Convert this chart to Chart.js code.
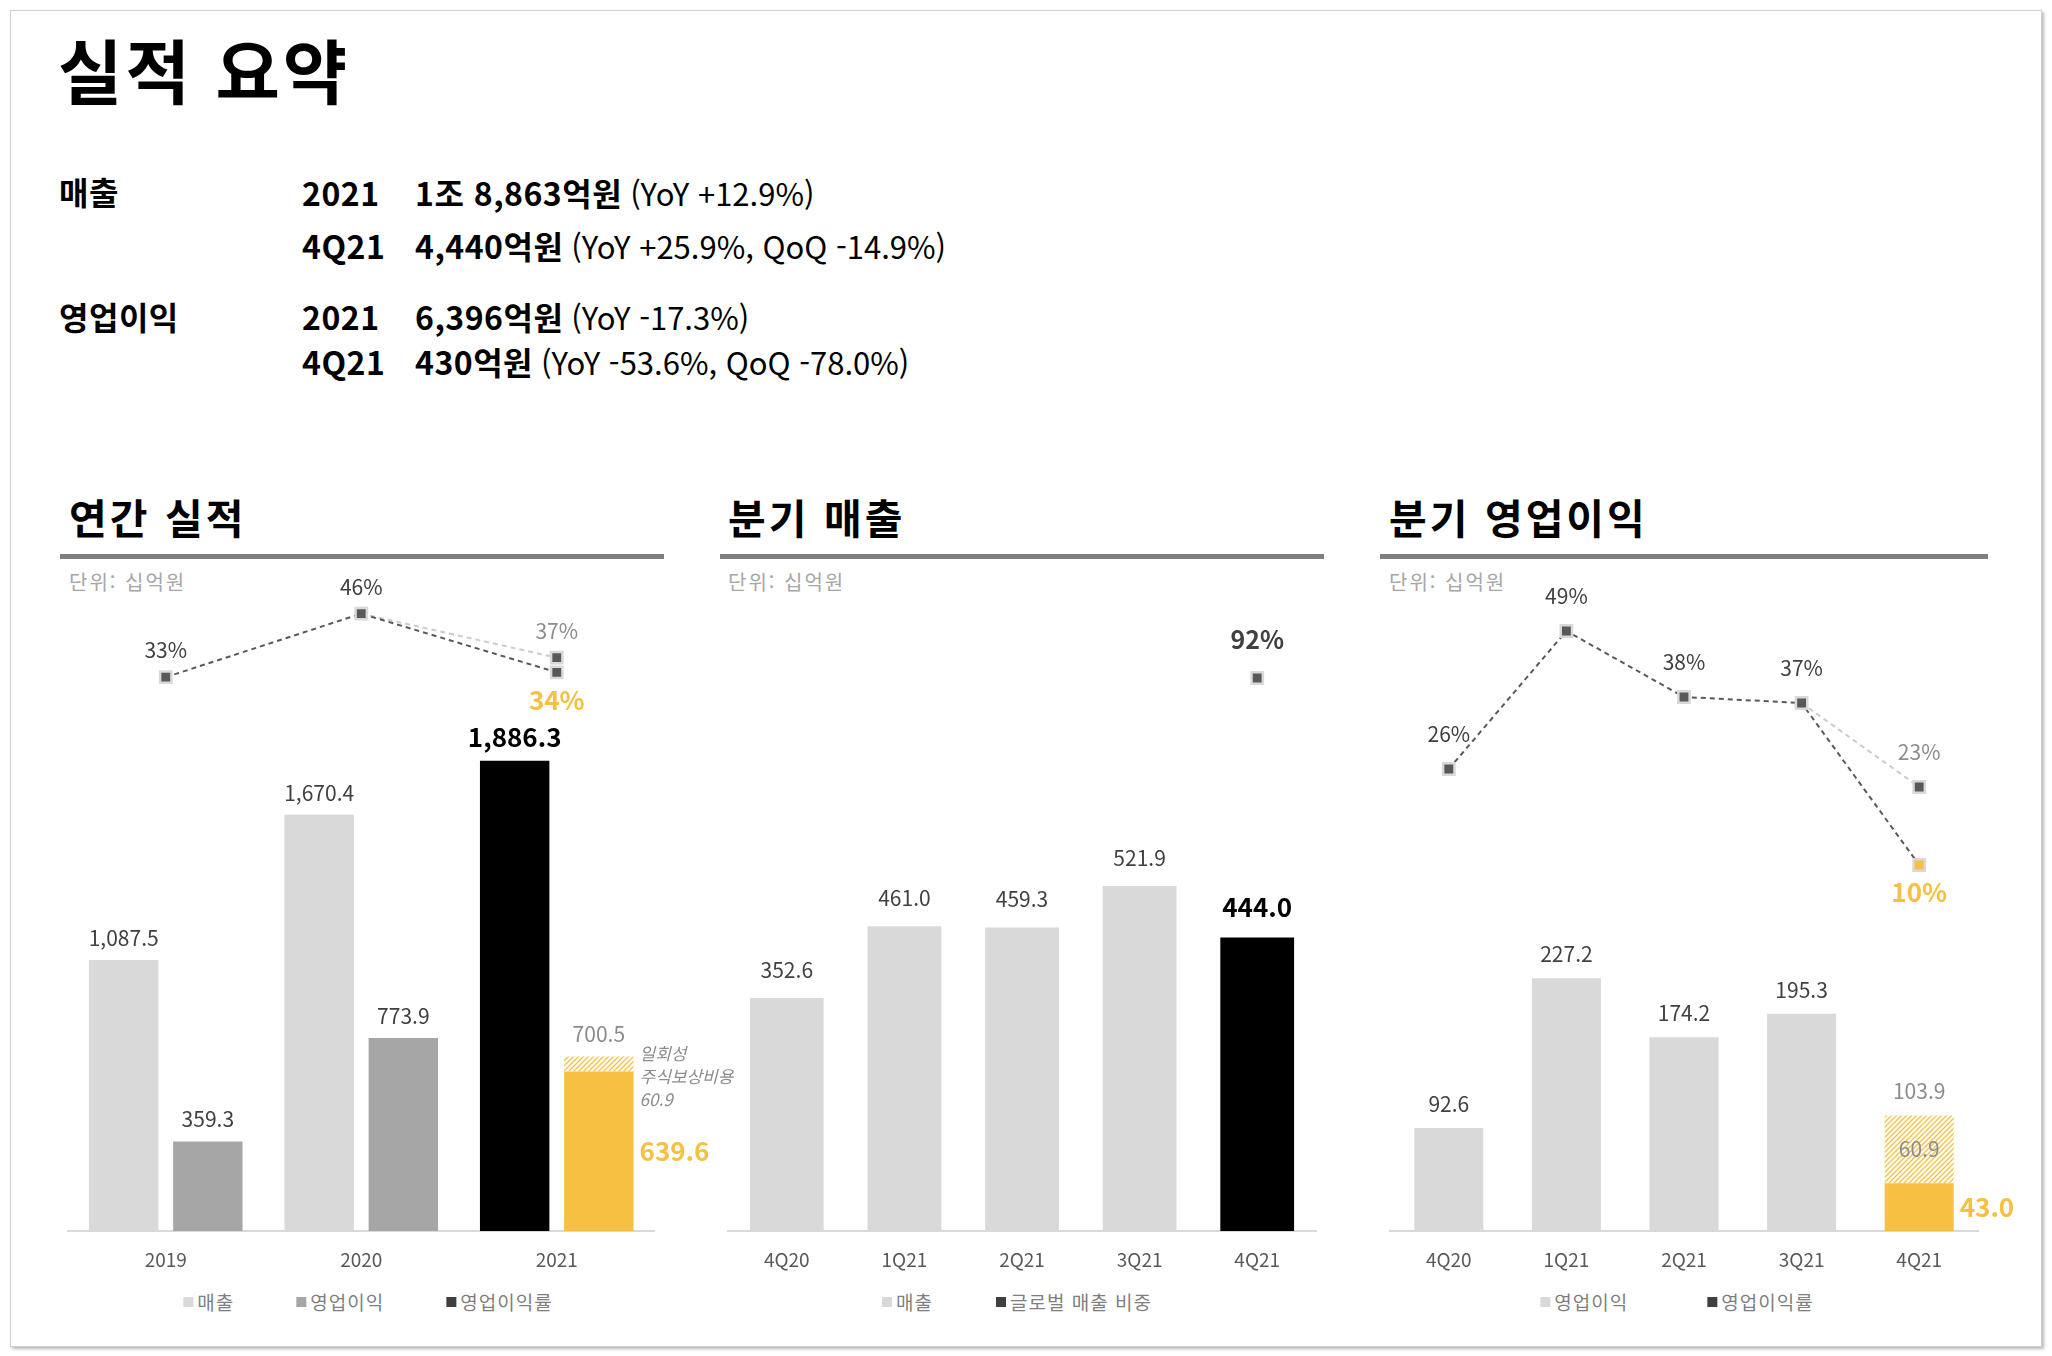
<!DOCTYPE html>
<html lang="ko">
<head>
<meta charset="utf-8">
<title>실적 요약</title>
<script src="https://cdn.jsdelivr.net/npm/chart.js@4.4.1/dist/chart.umd.min.js"></script>
<style>
  html, body { margin: 0; padding: 0; background: #fff; }
  body { width: 2052px; height: 1356px; position: relative; overflow: hidden;
         font-family: 'Noto Sans CJK KR', 'Noto Sans', sans-serif; color: #000; }
  .frame { position: absolute; left: 10px; top: 10px; width: 2030px; height: 1335px;
           border: 1px solid #cfcfcf; box-shadow: 2px 2px 3px rgba(0,0,0,.28); }
  .txt { position: absolute; white-space: nowrap; }
  .main-title { left: 58px; top: 29px; font-size: 70px; font-weight: 700; line-height: 80px; letter-spacing: 3px; }
  .row { font-size: 32px; line-height: 40px; height: 40px; font-weight: 700; letter-spacing: 0.5px; }
  .row .r { font-weight: 400; font-size: 31px; margin-left: 8px; letter-spacing: 0; }
  .sec { font-size: 41px; font-weight: 700; line-height: 50px; letter-spacing: 3px; }
  .rule { position: absolute; top: 554px; height: 5px; background: #7f7f7f; }
  .unit { font-size: 20px; color: #a6a6a6; letter-spacing: 2px; line-height: 26px; top: 569px; }
  canvas { position: absolute; }
  .legend { position: absolute; top: 1290px; height: 24px; transform: translateX(-50%);
            display: flex; white-space: nowrap; font-size: 19px; line-height: 24px; color: #7f7f7f; letter-spacing: 1px; }
  .legend .item { display: flex; align-items: center; }
  .legend .item i { display: inline-block; width: 10px; height: 10px; margin-right: 4px; }
</style>
</head>
<body>
<div class="frame"></div>

<div class="txt main-title">실적 요약</div>

<div class="txt row" style="left:59px; top:171px;">매출</div>
<div class="txt row" style="left:302px; top:172px;">2021</div>
<div class="txt row" style="left:415px; top:172px;">1조 8,863억원<span class="r">(YoY +12.9%)</span></div>
<div class="txt row" style="left:302px; top:225px;">4Q21</div>
<div class="txt row" style="left:415px; top:225px;">4,440억원<span class="r">(YoY +25.9%, QoQ -14.9%)</span></div>

<div class="txt row" style="left:59px; top:296px;">영업이익</div>
<div class="txt row" style="left:302px; top:296px;">2021</div>
<div class="txt row" style="left:415px; top:296px;">6,396억원<span class="r">(YoY -17.3%)</span></div>
<div class="txt row" style="left:302px; top:341px;">4Q21</div>
<div class="txt row" style="left:415px; top:341px;">430억원<span class="r">(YoY -53.6%, QoQ -78.0%)</span></div>

<div class="txt sec" style="left:69px; top:491px;">연간 실적</div>
<div class="txt sec" style="left:728px; top:491px;">분기 매출</div>
<div class="txt sec" style="left:1389px; top:491px;">분기 영업이익</div>
<div class="rule" style="left:60px; width:604px;"></div>
<div class="rule" style="left:720px; width:604px;"></div>
<div class="rule" style="left:1380px; width:608px;"></div>
<div class="txt unit" style="left:69px;">단위: 십억원</div>
<div class="txt unit" style="left:728px;">단위: 십억원</div>
<div class="txt unit" style="left:1389px;">단위: 십억원</div>

<canvas id="annual" width="720" height="741" style="left:40px; top:540px;"></canvas>
<canvas id="qsales" width="660" height="741" style="left:700px; top:540px;"></canvas>
<canvas id="qop" width="680" height="741" style="left:1362px; top:540px;"></canvas>

<div class="legend" id="lg1" style="left:368px; gap:62px;"></div>
<div class="legend" id="lg2" style="left:1017px; gap:63px;"></div>
<div class="legend" id="lg3" style="left:1677px; gap:79px;"></div>

<script>
// 연간 실적 (십억원)
var years = ['2019', '2020', '2021'];
var annualSales = [1087.5, 1670.4, 1886.3];
var annualOp = [359.3, 773.9, 639.6];
var annualOneOff = [null, null, 60.9];
var annualMargin = [33, 46, 34];
var annualMarginExOneOff = [null, 46, 37];

// 분기 매출
var quarters = ['4Q20', '1Q21', '2Q21', '3Q21', '4Q21'];
var qSales = [352.6, 461.0, 459.3, 521.9, 444.0];
var qGlobalShare = [null, null, null, null, 92];

// 분기 영업이익
var qOp = [92.6, 227.2, 174.2, 195.3, 43.0];
var qOneOff = [null, null, null, null, 60.9];
var qMargin = [26, 49, 38, 37, 10];
var qMarginExOneOff = [null, null, null, 37, 23];

var oneOffNote = ['일회성', '주식보상비용'];

var YELLOW = '#F6C143';
var LIGHT = '#d9d9d9';
var MID = '#a6a6a6';
var DARK = '#595959';
var FONT = "'Noto Sans CJK KR', 'Noto Sans', sans-serif";

Chart.defaults.font.family = FONT;

function fmt(v) {
	return v.toLocaleString('en-US', {minimumFractionDigits: 1, maximumFractionDigits: 1});
}
function pct(v) {
	return v + '%';
}

// diagonal yellow hatch for the one-off cost part
function makeHatch() {
	var s = 5;
	var c = document.createElement('canvas');
	c.width = s; c.height = s;
	var g = c.getContext('2d');
	g.fillStyle = '#fff';
	g.fillRect(0, 0, s, s);
	g.strokeStyle = YELLOW;
	g.lineWidth = 1.3;
	g.beginPath();
	g.moveTo(0, s); g.lineTo(s, 0);
	g.moveTo(-1, 1); g.lineTo(1, -1);
	g.moveTo(s - 1, s + 1); g.lineTo(s + 1, s - 1);
	g.stroke();
	return g.createPattern(c, 'repeat');
}
var hatch = makeHatch();

var labelStyles = {
	value:     {font: '400 21px', color: '#404040', pos: 'above'},
	strong:    {font: '700 26px', color: '#000000', pos: 'above', extra: 2},
	muted:     {font: '400 21px', color: '#8c8c8c', pos: 'above'},
	accentRight: {font: '700 26px', color: YELLOW, pos: 'right'},
	inside:    {font: '400 21px', color: '#8c8c8c', pos: 'inside'},
	note:      {font: 'italic 400 17px', color: '#8c8c8c', pos: 'note'},
	pct:       {font: '400 21px', color: '#404040', pos: 'above'},
	pctMuted:  {font: '400 21px', color: '#8c8c8c', pos: 'above'},
	pctStrong: {font: '700 25px', color: '#404040', pos: 'above'},
	pctAccent: {font: '700 26px', color: YELLOW, pos: 'below'}
};

function labelsFrom(values, styles, toText) {
	return values.map(function(v, i) {
		if (v === null || !styles[i]) return null;
		return [{text: toText(v), style: styles[i]}];
	});
}

var valueLabels = {
	id: 'valueLabels',
	afterDatasetsDraw: function(chart, args, opts) {
		var ctx = chart.ctx;
		chart.data.datasets.forEach(function(ds, di) {
			if (!ds.valueLabels) return;
			var meta = chart.getDatasetMeta(di);
			var isBar = meta.type === 'bar';
			ds.valueLabels.forEach(function(list, i) {
				if (!list) return;
				var el = meta.data[i];
				list.forEach(function(lab) {
					var st = labelStyles[lab.style];
					var x = el.x, y = el.y;
					ctx.save();
					ctx.font = st.font + ' ' + FONT;
					ctx.fillStyle = st.color;
					ctx.textAlign = 'center';
					ctx.textBaseline = 'middle';
					if (st.pos === 'above') {
						y -= (isBar ? opts.bar : opts.above) + (st.extra || 0);
					} else if (st.pos === 'below') {
						y += opts.below;
					} else if (st.pos === 'inside') {
						y = (el.y + el.base) / 2;
					} else if (st.pos === 'right') {
						ctx.textAlign = 'left';
						x = el.x + el.width / 2 + 6;
						y = (el.y + el.base) / 2;
					} else if (st.pos === 'note') {
						ctx.textAlign = 'left';
						x = el.x + el.width / 2 + 6;
						y = el.y - 3;
					}
					lab.text.split('\n').forEach(function(line, k) {
						ctx.fillText(line, x, y + k * 23);
					});
					ctx.restore();
				});
			});
		});
	}
};

// legend list built from the chart's own legend items
var htmlLegend = {
	id: 'htmlLegend',
	afterUpdate: function(chart, args, opts) {
		var box = document.getElementById(opts.containerID);
		box.innerHTML = '';
		var items = chart.options.plugins.legend.labels.generateLabels(chart)
			.filter(function(it) { return chart.data.datasets[it.datasetIndex].legendColor; })
			.sort(function(a, b) { return a.datasetIndex - b.datasetIndex; });
		items.forEach(function(it) {
			var ds = chart.data.datasets[it.datasetIndex];
			var li = document.createElement('span');
			li.className = 'item';
			var mk = document.createElement('i');
			mk.style.background = ds.legendColor;
			var tx = document.createElement('span');
			tx.textContent = it.text;
			li.appendChild(mk);
			li.appendChild(tx);
			box.appendChild(li);
		});
	}
};

function xScale() {
	return {
		grid: {display: false, drawTicks: false},
		border: {display: true, color: LIGHT, width: 2},
		ticks: {color: DARK, font: {size: 19}, padding: 17},
		afterFit: function(s) { s.height = 50; }
	};
}

function lineSet(label, data, color, extra) {
	var ds = {
		type: 'line', label: label, data: data, yAxisID: 'y1',
		borderColor: color, backgroundColor: DARK, borderWidth: 2, borderDash: [5, 4],
		pointStyle: 'rect', pointRadius: 8, pointBorderColor: LIGHT, pointBorderWidth: 2.5,
		pointBackgroundColor: DARK, fill: false, tension: 0, spanGaps: false
	};
	for (var k in extra) ds[k] = extra[k];
	return ds;
}

function baseOptions(catPct, barPct, yMax, y1Min, y1Max, pad, gaps, legendId) {
	return {
		responsive: false,
		animation: false,
		events: [],
		layout: {padding: pad},
		datasets: {bar: {categoryPercentage: catPct, barPercentage: barPct}},
		scales: {
			x: xScale(),
			y: {display: false, stacked: true, min: 0, max: yMax},
			y1: {display: false, min: y1Min, max: y1Max}
		},
		plugins: {
			legend: {display: false},
			tooltip: {enabled: false},
			valueLabels: gaps,
			htmlLegend: {containerID: legendId}
		}
	};
}

// 연간 실적
new Chart(document.getElementById('annual'), {
	type: 'bar',
	data: {
		labels: years,
		datasets: [
			{
				label: '매출', data: annualSales, stack: 'sales', order: 3,
				backgroundColor: [LIGHT, LIGHT, '#000000'], legendColor: LIGHT,
				valueLabels: labelsFrom(annualSales, ['value', 'value', 'strong'], fmt)
			},
			{
				label: '영업이익', data: annualOp, stack: 'op', order: 3,
				backgroundColor: [MID, MID, YELLOW], legendColor: MID,
				valueLabels: labelsFrom(annualOp, ['value', 'value', 'accentRight'], fmt)
			},
			{
				label: '일회성 주식보상비용', data: annualOneOff, stack: 'op', order: 3,
				backgroundColor: hatch,
				valueLabels: annualOneOff.map(function(v, i) {
					if (v === null) return null;
					return [
						{text: fmt(annualOp[i] + v), style: 'muted'},
						{text: oneOffNote.concat([fmt(v)]).join('\n'), style: 'note'}
					];
				})
			},
			lineSet('영업이익률(일회성 비용 제외)', annualMarginExOneOff, '#cccccc', {
				order: 2, pointRadius: [0, 0, 8],
				valueLabels: labelsFrom(annualMarginExOneOff, [null, null, 'pctMuted'], pct)
			}),
			lineSet('영업이익률', annualMargin, DARK, {
				order: 1, legendColor: '#404040',
				valueLabels: labelsFrom(annualMargin, ['pct', 'pct', 'pctAccent'], pct)
			})
		]
	},
	options: baseOptions(0.861, 0.825, 2612, -80.4, 52.9,
		{top: 40, left: 28, right: 105.5, bottom: 0},
		{bar: 22, above: 27, below: 28}, 'lg1'),
	plugins: [valueLabels, htmlLegend]
});

// 분기 매출
new Chart(document.getElementById('qsales'), {
	type: 'bar',
	data: {
		labels: quarters,
		datasets: [
			{
				label: '매출', data: qSales, order: 2,
				backgroundColor: [LIGHT, LIGHT, LIGHT, LIGHT, '#000000'], legendColor: LIGHT,
				valueLabels: labelsFrom(qSales, ['value', 'value', 'value', 'value', 'strong'], fmt)
			},
			lineSet('글로벌 매출 비중', qGlobalShare, DARK, {
				order: 1, showLine: false, legendColor: '#404040',
				valueLabels: labelsFrom(qGlobalShare, [null, null, null, null, 'pctStrong'], pct)
			})
		]
	},
	options: baseOptions(0.9, 0.697, 985, 0, 108.3,
		{top: 40, left: 28, right: 44, bottom: 0},
		{bar: 28, above: 38, below: 28}, 'lg2'),
	plugins: [valueLabels, htmlLegend]
});

// 분기 영업이익
new Chart(document.getElementById('qop'), {
	type: 'bar',
	data: {
		labels: quarters,
		datasets: [
			{
				label: '영업이익', data: qOp, stack: 'op', order: 3,
				backgroundColor: [LIGHT, LIGHT, LIGHT, LIGHT, YELLOW], legendColor: LIGHT,
				valueLabels: labelsFrom(qOp, ['value', 'value', 'value', 'value', 'accentRight'], fmt)
			},
			{
				label: '일회성 주식보상비용', data: qOneOff, stack: 'op', order: 3,
				backgroundColor: hatch,
				valueLabels: qOneOff.map(function(v, i) {
					if (v === null) return null;
					return [
						{text: fmt(qOp[i] + v), style: 'muted'},
						{text: fmt(v), style: 'inside'}
					];
				})
			},
			lineSet('영업이익률(일회성 비용 제외)', qMarginExOneOff, '#cccccc', {
				order: 2, pointRadius: [0, 0, 0, 0, 8],
				valueLabels: labelsFrom(qMarginExOneOff, [null, null, null, null, 'pctMuted'], pct)
			}),
			lineSet('영업이익률', qMargin, DARK, {
				order: 1, legendColor: '#404040',
				pointBackgroundColor: [DARK, DARK, DARK, DARK, YELLOW],
				valueLabels: labelsFrom(qMargin, ['pct', 'pct', 'pct', 'pct', 'pctAccent'], pct)
			})
		]
	},
	options: baseOptions(0.9, 0.652, 585, -51.0, 57.5,
		{top: 40, left: 28, right: 64, bottom: 0},
		{bar: 24, above: 35, below: 27}, 'lg3'),
	plugins: [valueLabels, htmlLegend]
});
</script>
</body>
</html>
